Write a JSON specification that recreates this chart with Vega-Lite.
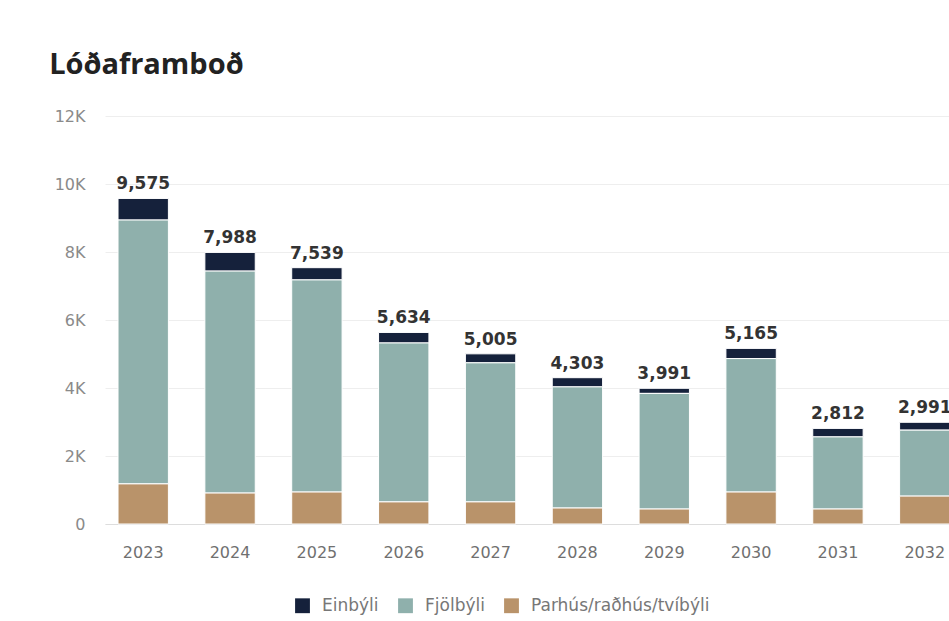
{
  "$schema": "https://vega.github.io/schema/vega-lite/v6.json",
  "autosize": {"type": "none"},
  "width": 844,
  "height": 408,
  "padding": {"left": 105, "top": 116, "right": 0, "bottom": 97},
  "background": "white",
  "title": {
    "text": "Lóðaframboð",
    "anchor": "start",
    "dx": -5,
    "offset": 5,
    "baseline": "alphabetic",
    "fontSize": 29,
    "font": "Open Sans",
    "fontWeight": "bold",
    "color": "#222222"
  },
  "config": {
    "view": {"stroke": null},
    "font": "DejaVu Sans"
  },
  "data": {
    "values": [
      {"year": "2023", "type": "Einbýli", "value": 635},
      {"year": "2023", "type": "Fjölbýli", "value": 7760},
      {"year": "2023", "type": "Parhús/raðhús/tvíbýli", "value": 1180},
      {"year": "2024", "type": "Einbýli", "value": 550},
      {"year": "2024", "type": "Fjölbýli", "value": 6528},
      {"year": "2024", "type": "Parhús/raðhús/tvíbýli", "value": 910},
      {"year": "2025", "type": "Einbýli", "value": 360},
      {"year": "2025", "type": "Fjölbýli", "value": 6239},
      {"year": "2025", "type": "Parhús/raðhús/tvíbýli", "value": 940},
      {"year": "2026", "type": "Einbýli", "value": 310},
      {"year": "2026", "type": "Fjölbýli", "value": 4674},
      {"year": "2026", "type": "Parhús/raðhús/tvíbýli", "value": 650},
      {"year": "2027", "type": "Einbýli", "value": 265},
      {"year": "2027", "type": "Fjölbýli", "value": 4090},
      {"year": "2027", "type": "Parhús/raðhús/tvíbýli", "value": 650},
      {"year": "2028", "type": "Einbýli", "value": 270},
      {"year": "2028", "type": "Fjölbýli", "value": 3563},
      {"year": "2028", "type": "Parhús/raðhús/tvíbýli", "value": 470},
      {"year": "2029", "type": "Einbýli", "value": 150},
      {"year": "2029", "type": "Fjölbýli", "value": 3401},
      {"year": "2029", "type": "Parhús/raðhús/tvíbýli", "value": 440},
      {"year": "2030", "type": "Einbýli", "value": 300},
      {"year": "2030", "type": "Fjölbýli", "value": 3925},
      {"year": "2030", "type": "Parhús/raðhús/tvíbýli", "value": 940},
      {"year": "2031", "type": "Einbýli", "value": 250},
      {"year": "2031", "type": "Fjölbýli", "value": 2122},
      {"year": "2031", "type": "Parhús/raðhús/tvíbýli", "value": 440},
      {"year": "2032", "type": "Einbýli", "value": 230},
      {"year": "2032", "type": "Fjölbýli", "value": 1941},
      {"year": "2032", "type": "Parhús/raðhús/tvíbýli", "value": 820}
    ]
  },
  "encoding": {
    "x": {
      "field": "year",
      "type": "nominal",
      "scale": {"range": [0, 858], "paddingInner": 0.42, "paddingOuter": 0.15},
      "axis": {
        "title": null,
        "labelAngle": 0,
        "labelFont": "DejaVu Sans",
        "labelFontSize": 16,
        "labelColor": "#707070",
        "labelPadding": 20,
        "ticks": false,
        "domain": true,
        "domainColor": "#dddddd",
        "grid": false
      }
    }
  },
  "layer": [
    {
      "mark": {"type": "bar", "stroke": "white", "strokeWidth": 1},
      "encoding": {
        "y": {
          "field": "value",
          "type": "quantitative",
          "aggregate": "sum",
          "stack": "zero",
          "scale": {"domain": [0, 12000]},
          "axis": {
            "title": null,
            "values": [0, 2000, 4000, 6000, 8000, 10000, 12000],
            "labelExpr": "datum.value == 0 ? '0' : (datum.value / 1000) + 'K'",
            "labelFont": "DejaVu Sans",
            "labelFontSize": 16,
            "labelColor": "#8a8a8a",
            "labelPadding": 20,
            "ticks": false,
            "domain": false,
            "gridColor": "#eeeeee",
            "gridWidth": 1
          }
        },
        "color": {
          "field": "type",
          "type": "nominal",
          "scale": {
            "domain": ["Einbýli", "Fjölbýli", "Parhús/raðhús/tvíbýli"],
            "range": ["#15213b", "#8fb0ac", "#b9936a"]
          },
          "legend": {
            "title": null,
            "orient": "none",
            "direction": "horizontal",
            "legendX": 189,
            "legendY": 481,
            "symbolType": "square",
            "symbolSize": 220,
            "symbolStrokeWidth": 0,
            "labelFont": "DejaVu Sans",
            "labelFontSize": 17,
            "labelOffset": 11,
            "labelLimit": 400,
            "labelColor": "#777777",
            "columnPadding": 18
          }
        },
        "order": {"field": "type", "sort": "descending"}
      }
    },
    {
      "transform": [
        {"aggregate": [{"op": "sum", "field": "value", "as": "total"}], "groupby": ["year"]}
      ],
      "mark": {
        "type": "text",
        "baseline": "bottom",
        "dy": -5,
        "fontSize": 17,
        "fontWeight": "bold",
        "color": "#333333",
        "font": "DejaVu Sans"
      },
      "encoding": {
        "y": {"field": "total", "type": "quantitative"},
        "text": {"field": "total", "type": "quantitative", "format": ","}
      }
    }
  ]
}
